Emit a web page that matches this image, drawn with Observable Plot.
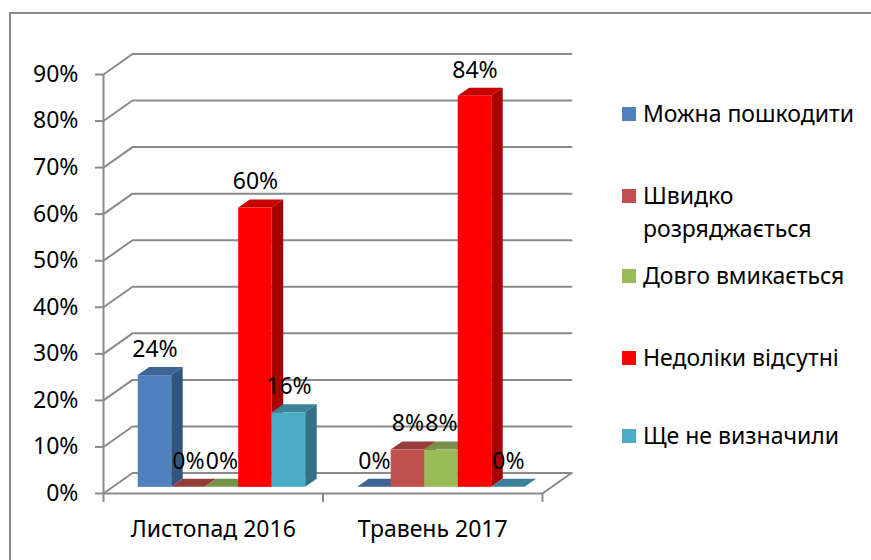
<!DOCTYPE html>
<html><head><meta charset="utf-8">
<script src="https://cdn.jsdelivr.net/npm/d3@7"></script>
<script src="https://cdn.jsdelivr.net/npm/@observablehq/plot@0.6"></script>
<style>
html,body{margin:0;padding:0;background:#fff;}
#chart{position:relative;width:871px;height:560px;overflow:hidden;font-family:"Noto Sans",sans-serif;background:#fff;}
#frame{position:absolute;left:9px;top:12px;width:900px;height:600px;border-left:2px solid #8a8a8a;border-top:2px solid #8a8a8a;}
#plot{position:absolute;left:0;top:0;}
.leg{position:absolute;left:622px;font-size:23px;line-height:33px;color:#000;width:249px;}
.sw{position:absolute;left:0;top:10px;width:14px;height:14px;}
.lt{margin-left:21px;}
</style>
</head><body>
<div id="chart"><div id="frame"></div><div id="plot"></div></div>
<script>
// ---- data ----
const categories = ["Листопад 2016", "Травень 2017"];
const seriesNames = ["Можна пошкодити", "Швидко розряджається", "Довго вмикається", "Недоліки відсутні", "Ще не визначили"];
const valuesMozhna = [0.24, 0.00];
const valuesShvydko = [0.00, 0.08];
const valuesDovho = [0.00, 0.08];
const valuesNedoliky = [0.60, 0.84];
const valuesShche = [0.16, 0.00];
const yTicks = [0, 0.1, 0.2, 0.3, 0.4, 0.5, 0.6, 0.7, 0.8, 0.9];

// ---- styles ----
const frontColors = ["#4F81BD", "#C0504D", "#9BBB59", "#FF0000", "#4BACC6"];
const topColors   = ["#3C6595", "#953D3B", "#77914A", "#C80000", "#3A8299"];
const sideColors  = ["#32547D", "#8A3836", "#6B8340", "#A80000", "#317283"];
const gridColor = "#8a8a8a";

// ---- layout (pixels) ----
const W = 871, H = 560, mL = 103, mR = 329, mT = 74, mB = 67;
const n = categories.length;
const kx = n / (W - mL - mR);          // data units per px (x)
const ky = 0.9 / (H - mT - mB);        // data units per px (y)
const DX = 29 * kx, DY = 20.5 * ky;    // depth of the box (back wall offset)
const BDX = 11.5 * kx, BDY = 8 * ky;   // depth of each bar
const FRONT = 0.3;                     // bar position in depth
const BW = 33.5 * kx;                  // bar width
const GAP = (1 - BW * seriesNames.length) / 2;

const seriesValues = [valuesMozhna, valuesShvydko, valuesDovho, valuesNedoliky, valuesShche];

const bars = [];
seriesValues.forEach((vals, i) => vals.forEach((v, g) => {
  const x1 = g + GAP + i * BW + FRONT * DX;
  const y0 = FRONT * DY;
  bars.push({id: g + "-" + i, i, g, v, x1, x2: x1 + BW, y0, y1: y0 + v});
}));
bars.sort((a, b) => a.x1 - b.x1);

const tops = bars.flatMap(b => [
  {id: b.id, i: b.i, x: b.x1, lo: b.y1, hi: b.y1},
  {id: b.id, i: b.i, x: b.x1 + BDX, lo: b.y1, hi: b.y1 + BDY},
  {id: b.id, i: b.i, x: b.x2, lo: b.y1, hi: b.y1 + BDY},
  {id: b.id, i: b.i, x: b.x2 + BDX, lo: b.y1 + BDY, hi: b.y1 + BDY}
]);
const sides = bars.flatMap(b => [
  {id: b.id, i: b.i, x: b.x2, lo: b.y0, hi: b.y1},
  {id: b.id, i: b.i, x: b.x2 + BDX, lo: b.y0 + BDY, hi: b.y1 + BDY}
]);

const gridPts = yTicks.flatMap(t => [
  {k: t, x: 0, y: t}, {k: t, x: DX, y: t + DY}, {k: t, x: n + DX, y: t + DY}
]);
const floorPts = [{x: 0, y: 0}, {x: n, y: 0}, {x: n + DX, y: DY}];

const pct = d3.format(".0%");

const chart = Plot.plot({
  width: W, height: H,
  marginLeft: mL, marginRight: mR, marginTop: mT, marginBottom: mB,
  x: {type: "linear", domain: [0, n], axis: null},
  y: {domain: [0, 0.9], axis: null},
  color: {type: "identity"},
  style: {fontFamily: "'Noto Sans', sans-serif", fontSize: "23px", color: "#000", background: "transparent", overflow: "visible"},
  marks: [
    Plot.line(gridPts, {x: "x", y: "y", z: "k", stroke: gridColor, strokeWidth: 2, curve: "linear"}),
    Plot.line(floorPts, {x: "x", y: "y", stroke: gridColor, strokeWidth: 2}),
    Plot.ruleX([0], {y1: 0, y2: 0.9, stroke: gridColor, strokeWidth: 2}),
    Plot.axisY({ticks: yTicks, tickFormat: pct, tickSize: 8, tickPadding: 17, fontSize: 23, stroke: gridColor, strokeWidth: 2, fill: "#000", label: null}),
    Plot.axisX({ticks: d3.range(n + 1), tickSize: 9, tickFormat: () => "", stroke: gridColor, strokeWidth: 2, label: null}),
    Plot.axisX({ticks: categories.map((c, i) => i + 0.5), tickFormat: d => categories[Math.floor(d)], tickSize: 0, tickPadding: 27, fontSize: 23, fill: "#000", label: null}),
    Plot.area(sides, {x1: "x", y1: "lo", y2: "hi", z: "id", fill: d => sideColors[d.i], curve: "linear"}),
    Plot.area(tops, {x1: "x", y1: "lo", y2: "hi", z: "id", fill: d => topColors[d.i], curve: "linear"}),
    Plot.rect(bars, {x1: "x1", x2: "x2", y1: "y0", y2: "y1", fill: d => frontColors[d.i]}),
    Plot.text(bars, {x: d => (d.x1 + d.x2) / 2, y: d => d.y1 + BDY, text: d => pct(d.v), dy: -18, fontSize: 23, fill: "#000"})
  ]
});
document.getElementById("plot").appendChild(chart);

// ---- legend ----
const legendTops = [113, 195, 275, 357, 435];
const chartDiv = document.getElementById("chart");
seriesNames.forEach((name, i) => {
  const item = document.createElement("div");
  item.className = "leg";
  item.style.top = (legendTops[i] - 16.5) + "px";
  const sw = document.createElement("div");
  sw.className = "sw";
  sw.style.background = frontColors[i];
  const t = document.createElement("div");
  t.className = "lt";
  t.textContent = name;
  item.appendChild(sw); item.appendChild(t);
  chartDiv.appendChild(item);
});
</script>
</body></html>
